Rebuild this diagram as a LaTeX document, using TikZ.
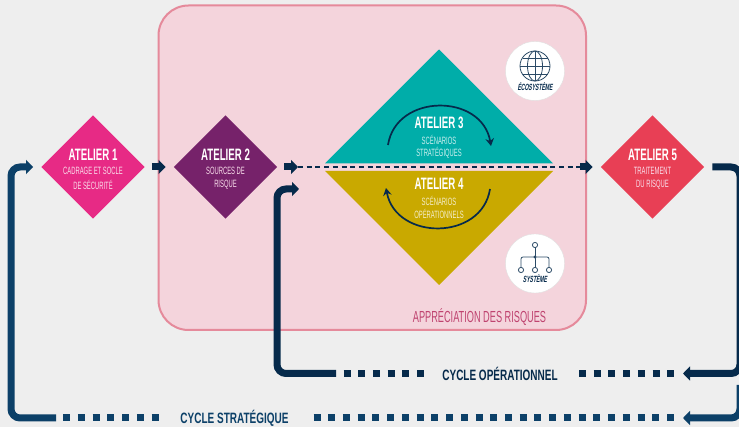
\documentclass[tikz,border=0pt]{standalone}
\usepackage{fontspec}
\setmainfont{Liberation Sans}
\newfontfamily\titlefont[FakeStretch=0.587]{Liberation Sans}
\newfontfamily\smallcond[FakeStretch=0.553]{Liberation Sans}
\newfontfamily\cycfont[FakeStretch=0.666]{Liberation Sans}
\newfontfamily\appfont[FakeStretch=0.575]{Liberation Sans}
\newfontfamily\badgefont[FakeStretch=0.56,FakeSlant=0.18]{Liberation Sans}
\usetikzlibrary{shapes.geometric,arrows.meta,calc}
\definecolor{bgc}{HTML}{EEEEEE}
\definecolor{pinkfill}{HTML}{F4D4DC}
\definecolor{pinkline}{HTML}{E58A9B}
\definecolor{magentac}{HTML}{E72A85}
\definecolor{purplec}{HTML}{76226A}
\definecolor{redc}{HTML}{E83F55}
\definecolor{tealc}{HTML}{00ADA9}
\definecolor{goldc}{HTML}{C9A900}
\definecolor{stratc}{HTML}{0C4068}
\definecolor{opc}{HTML}{062A4B}
\definecolor{appc}{HTML}{BF4470}
\definecolor{lightpink}{HTML}{F9DDEA}
\tikzset{
  x=1pt,y=-1pt,
  atelier/.style={diamond,aspect=1,minimum width=103.5pt,minimum height=103.5pt,inner sep=0pt,text=white,align=center},
  title/.style={text=white,inner sep=0pt,font=\titlefont\bfseries\fontsize{16.5}{16.5}\selectfont},
  sub/.style={inner sep=0pt,font=\smallcond\fontsize{10.6}{10.6}\selectfont},
  cyc/.style={inner sep=0pt,font=\cycfont\bfseries\fontsize{15}{15}\selectfont},
  stub/.style={opc,line width=7pt,-{Triangle[length=7pt,width=14pt]}},
  mainline/.style={line width=7pt,rounded corners=9pt,-{Triangle[length=7pt,width=14pt]}},
  squares/.style={line width=7pt,dash pattern=on 7pt off 7.73pt},
  cycarc/.style={opc,line width=1.7pt,-{Stealth[length=7.5pt,width=8.5pt,inset=2.5pt]}},
  badge/.style={circle,fill=white,draw=white!88!black,line width=.4pt,minimum size=59pt,inner sep=0pt},
  icon/.style={opc!85!white,line width=.8pt},
  badgetext/.style={inner sep=0pt,text=opc,font=\badgefont\bfseries\fontsize{9}{9}\selectfont}
}
\begin{document}
\begin{tikzpicture}
\useasboundingbox (0,0) rectangle (739,427);
\fill[bgc] (0,0) rectangle (739,427);
\draw[pinkline,fill=pinkfill,line width=2pt,rounded corners=30pt] (158.5,5.5) rectangle (586,330);

% triangles
\fill[tealc] (439,49.5) -- (553,163.3) -- (325,163.3) -- cycle;
\fill[goldc] (439,285) -- (553,171) -- (325,171) -- cycle;

% diamonds
\node[atelier,fill=magentac] (a1) at (93,167) {};
\node[atelier,fill=purplec] (a2) at (225.5,167) {};
\node[atelier,fill=redc] (a5) at (652.5,167) {};

% texts
\node[title] (t1) at (93,155) {ATELIER 1};
\node[sub,text=lightpink] (s1a) at (93,171) {CADRAGE ET SOCLE};
\node[sub,text=lightpink] (s1b) at (93,184.5) {DE SÉCURITÉ};
\node[title] (t2) at (225.5,155) {ATELIER 2};
\node[sub,text=lightpink] (s2a) at (225.5,171) {SOURCES DE};
\node[sub,text=lightpink] (s2b) at (225.5,184.5) {RISQUE};
\node[title] (t3) at (439,123) {ATELIER 3};
\node[sub,text=white!80!tealc] (s3a) at (439,140) {SCÉNARIOS};
\node[sub,text=white!80!tealc] (s3b) at (439,153) {STRATÉGIQUES};
\node[title] (t4) at (439,184) {ATELIER 4};
\node[sub,text=white!80!goldc] (s4a) at (439,201) {SCÉNARIOS};
\node[sub,text=white!80!goldc] (s4b) at (439,214) {OPÉRATIONNELS};
\node[title] (t5) at (652.5,155) {ATELIER 5};
\node[sub,text=lightpink] (s5a) at (652.5,171) {TRAITEMENT};
\node[sub,text=lightpink] (s5b) at (652.5,184.5) {DU RISQUE};

% cycle arcs inside the triangles
\coordinate (a3s) at (388,145);
\coordinate (a3e) at (491,146);
\coordinate (a4s) at (490,189);
\coordinate (a4e) at (386,188);
\draw[cycarc] (a3s) .. controls (396,93) and (482,93) .. (a3e);
\draw[cycarc] (a4s) .. controls (482,241) and (396,241) .. (a4e);

% flow stubs and dashed link
\coordinate (dashA) at (298,167);
\coordinate (dashB) at (580,167);
\draw[stub] ([xshift=7pt]a1.east) -- ([xshift=-8pt]a2.west);
\draw[stub] ([xshift=7pt]a2.east) -- (dashA);
\draw[opc,line width=1.2pt,dash pattern=on 5pt off 3.7pt] (dashA) -- (dashB);
\draw[stub] (dashB) -- ([xshift=-8pt]a5.west);

% strategic cycle
\coordinate (sA) at (56,418);
\coordinate (sCorner) at (11,418);
\coordinate (sTop) at (11,167);
\draw[mainline,stratc] (sA) -- (sCorner) -- (sTop) -- ([xshift=-8pt]a1.west);
\draw[squares,stratc] (63.2,418) -- (158.6,418);
\node[cyc,text=stratc] (cs) at (234.5,418) {CYCLE STRATÉGIQUE};
\draw[squares,stratc] (313.5,418) -- (675.3,418);

% operational cycle
\coordinate (oA) at (336,373.5);
\coordinate (oCorner) at (277,373.5);
\coordinate (oTop) at (277,189);
\coordinate (oEnd) at (299,189);
\draw[mainline,opc] (oA) -- (oCorner) -- (oTop) -- (oEnd);
\draw[squares,opc] (343.5,373.5) -- (423.6,373.5);
\node[cyc,text=opc] (co) at (500,374) {CYCLE OPÉRATIONNEL};
\draw[squares,opc] (579,373.5) -- (675.3,373.5);

% exit of atelier 5
\coordinate (rCornerA) at (740,167);
\coordinate (rCornerB) at (740,373.5);
\coordinate (rEndA) at (683,373.5);
\coordinate (rStart) at (740,385);
\coordinate (rCornerC) at (740,418);
\coordinate (rEndB) at (683,418);
\draw[mainline,opc] ([xshift=8pt]a5.east) -- (rCornerA) -- (rCornerB) -- (rEndA);
\draw[mainline,stratc] (rStart) -- (rCornerC) -- (rEndB);

\node[inner sep=0pt,text=appc,font=\appfont\fontsize{16}{16}\selectfont] (app) at (479.5,317) {APPRÉCIATION DES RISQUES};

% ecosystem badge
\node[badge] (eco) at (535,71) {};
\begin{scope}[icon]
  \coordinate (g) at (535,66);
  \draw (g) circle[radius=15];
  \draw (g) ellipse[x radius=7.5,y radius=15];
  \draw (535,51) -- (535,81);
  \draw (520,66) -- (550,66);
  \draw (522.5,58) -- (547.5,58);
  \draw (522.5,74) -- (547.5,74);
\end{scope}
\node[badgetext] (ecot) at (535,87) {ÉCOSYSTÈME};

% system badge
\node[badge] (sys) at (535,263.5) {};
\begin{scope}[icon]
  \coordinate (top) at (535,245);
  \coordinate (hub) at (535,257);
  \coordinate (l1) at (521,270);
  \coordinate (l2) at (535,270);
  \coordinate (l3) at (549,270);
  \draw (top) -- (l2);
  \draw[rounded corners=2pt] (l1) -- (521,257) -- (549,257) -- (l3);
  \foreach \p in {top,l1,l2,l3} \draw[fill=white] (\p) circle[radius=2.6];
  \draw[fill=white] (hub) circle[radius=1];
\end{scope}
\node[badgetext] (syst) at (535,279) {SYSTÈME};
\end{tikzpicture}
\end{document}
